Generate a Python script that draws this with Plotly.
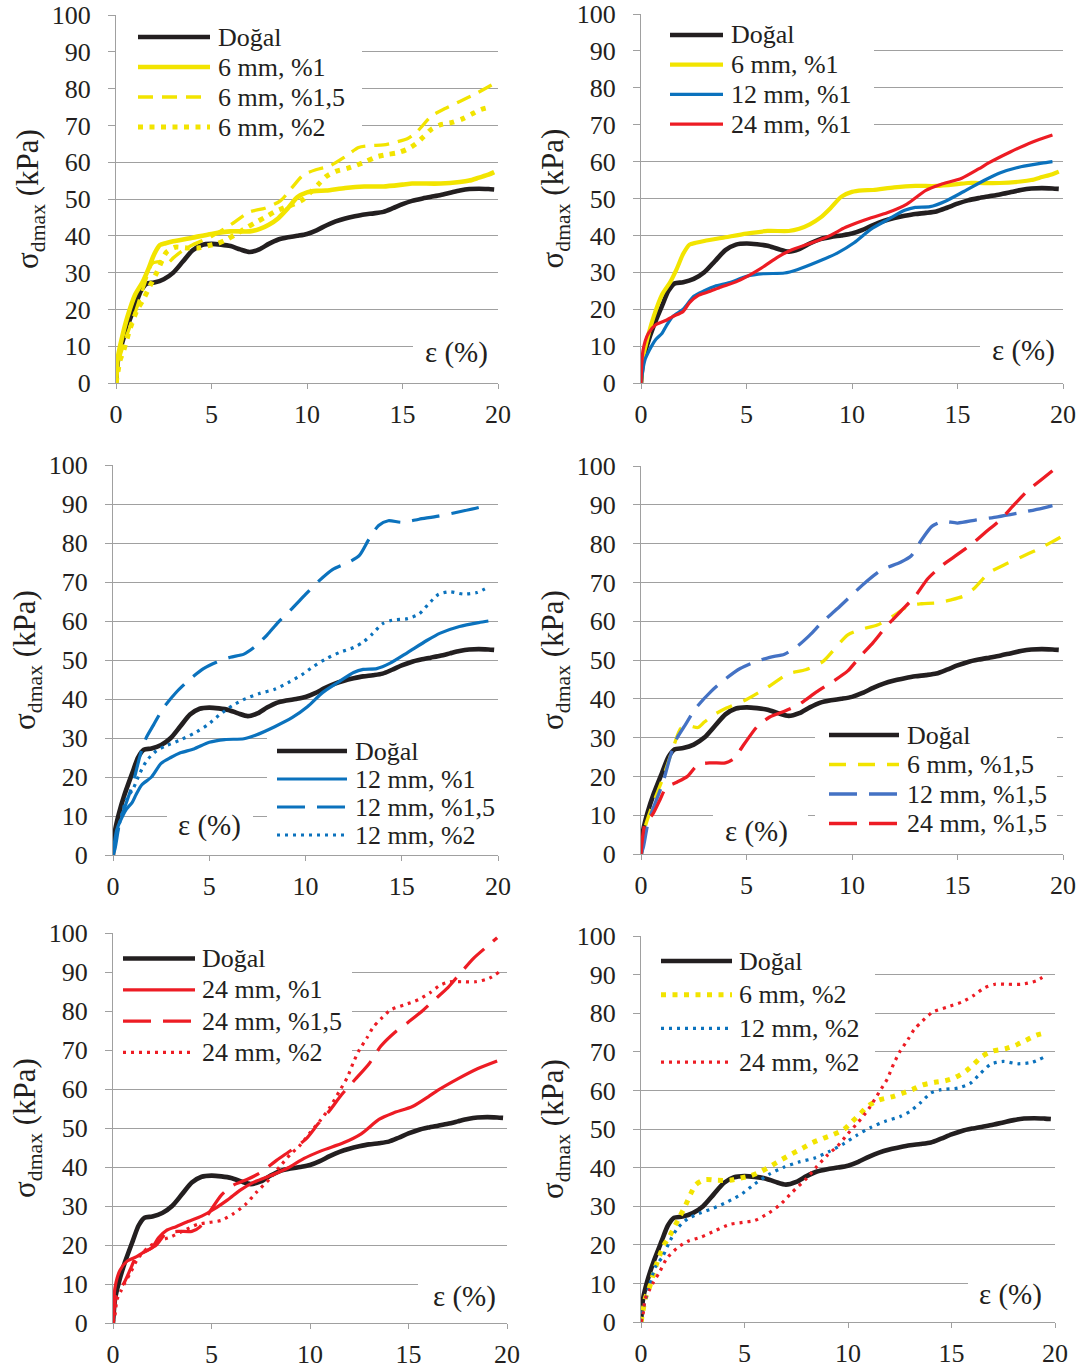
import plotly.graph_objects as go

W, H = 1088, 1370

# ---------------------------------------------------------------
# Strain ε (%) and maximum deviator stress σdmax (kPa) per mix
# ---------------------------------------------------------------
dogal_x = [0, 0.1, 0.3, 0.6, 1.0, 1.3, 1.6, 2.0, 2.5, 3.0, 3.5, 4.0, 4.5, 5.0, 5.5,
           6.0, 6.5, 7.0, 7.5, 8.0, 8.5, 9.0, 9.5, 10.0, 10.5, 11.0, 11.5, 12.0,
           12.5, 13.0, 13.5, 14.0, 14.5, 15.0, 15.5, 16.0, 16.5, 17.0, 17.5, 18.0,
           18.5, 19.0, 19.5, 19.8]
dogal_y = [0, 6, 10.5, 15.5, 21, 25, 27, 27.3, 28.2, 30, 33, 36, 37.5, 37.8, 37.6,
           37.2, 36.3, 35.6, 36.3, 37.8, 39, 39.6, 40, 40.5, 41.5, 42.8, 43.9, 44.7,
           45.3, 45.8, 46.1, 46.5, 47.5, 48.6, 49.5, 50.1, 50.6, 51.1, 51.7, 52.3,
           52.7, 52.8, 52.7, 52.6]

mm6_p1_x = [0, 0.1, 0.3, 0.6, 1.0, 1.4, 1.7, 2.0, 2.3, 2.6, 3.0, 4.0, 5.0, 6.0, 7.0,
            7.5, 8.0, 8.5, 9.0, 9.5, 10.0, 10.5, 11.0, 12.0, 13.0, 14.0, 15.0, 15.5,
            16.0, 17.0, 18.0, 18.5, 19.0, 19.5, 19.8]
mm6_p1_y = [0, 7, 12, 18, 24, 27.5, 31, 35, 37.5, 38, 38.5, 39.5, 40.5, 41.2, 41.2,
            41.8, 43, 44.8, 47.5, 50.5, 51.8, 52.2, 52.3, 53, 53.4, 53.4, 53.9, 54.2,
            54.2, 54.2, 54.6, 55, 55.8, 56.6, 57.3]

mm6_p15_x = [0, 0.2, 0.5, 1.0, 1.5, 1.9, 2.3, 2.7, 3.0, 3.5, 4.0, 5.0, 6.0, 7.0, 7.8,
             8.6, 9.2, 9.8, 10.5, 11.2, 12.0, 12.7, 13.3, 14.0, 14.7, 15.3, 15.8,
             16.5, 17.2, 18.0, 18.8, 19.5, 19.9]
mm6_p15_y = [0, 7, 12, 19, 27, 32.5, 33, 32.6, 34, 36, 37.5, 39.8, 43, 46.5, 47.5,
             49.5, 53, 56.5, 58, 59, 61.5, 64, 64.5, 64.7, 65.5, 66.5, 68.5, 72.5,
             74.5, 76.5, 78.5, 80.5, 81.7]

mm6_p2_x = [0, 0.1, 0.2, 0.4, 0.7, 1.1, 1.4, 1.65, 1.9, 2.15, 2.4, 2.65, 3.1, 3.7,
            4.3, 4.8, 5.3, 5.8, 6.3, 6.8, 7.3, 7.8, 8.3, 8.8, 9.3, 9.8, 10.2, 10.6,
            11.0, 11.5, 12.1, 12.6, 13.1, 13.6, 14.2, 14.7, 15.2, 15.7, 16.1, 16.5,
            17.0, 17.6, 18.1, 18.6, 19.1, 19.6]
mm6_p2_y = [0, 3, 6, 8.8, 14.2, 19.8, 22.4, 25, 27.6, 30.2, 33.2, 35.6, 36.9, 36.7,
            36.7, 37.3, 37.9, 39, 40.5, 42.1, 43.6, 45, 46.5, 47.6, 48.6, 49.9, 51.9,
            54, 56.1, 57.5, 58.3, 59.2, 60.2, 61.4, 62.1, 62.5, 63.4, 65, 66.9, 68.9,
            70.2, 70.8, 71.7, 73, 74.3, 75]

mm12_p1_x = [0, 0.1, 0.2, 0.5, 0.7, 1.0, 1.2, 1.5, 2.0, 2.5, 3.0, 3.5, 4.2, 5.0, 5.8,
             6.8, 7.4, 8.4, 9.3, 10.1, 10.9, 11.7, 12.5, 13.0, 13.7, 14.4, 15.3, 16.3,
             17.0, 18.0, 19.0, 19.5]
mm12_p1_y = [0, 4, 6.5, 10, 11.8, 13.5, 15.5, 18, 20, 23.5, 25, 26.2, 27.2, 28.9,
             29.6, 29.8, 30.7, 32.9, 35.2, 38, 41.7, 44.3, 46.8, 47.6, 47.8, 49.2,
             51.9, 55, 56.9, 58.6, 59.6, 60]

mm12_p15_x = [0, 0.1, 0.35, 0.7, 1.05, 1.4, 1.7, 2.1, 2.6, 3.3, 4.0, 4.7, 5.4, 6.1,
              6.8, 7.4, 8.0, 8.6, 9.3, 10.0, 10.7, 11.4, 12.3, 12.8, 13.3, 13.8, 14.3,
              15.0, 15.9, 16.9, 18.0, 19.0, 19.5]
mm12_p15_y = [0, 1.5, 8.4, 13.5, 18.6, 25.4, 29.8, 33.3, 37.6, 41.8, 45.1, 47.8,
              49.5, 50.7, 51.5, 53.5, 56.4, 59.8, 63.2, 66.8, 70.3, 73.2, 75.2, 76.8,
              81, 84.5, 85.7, 85.3, 86.1, 86.9, 88, 89.1, 89.8]

mm12_p2_x = [0, 0.1, 0.35, 0.7, 1.05, 1.4, 1.75, 2.25, 2.8, 3.5, 4.2, 4.9, 5.5, 6.2,
             6.9, 7.6, 8.4, 9.1, 9.8, 10.4, 11.1, 11.8, 12.5, 13.0, 13.5, 14.0, 14.5,
             15.3, 15.9, 16.4, 16.9, 17.5, 18.2, 18.9, 19.5]
mm12_p2_y = [0, 3.2, 8.4, 14.3, 17, 21, 24.2, 26.7, 28.1, 29.5, 31.2, 33.3, 35.8,
             38.3, 40.1, 41.4, 42.5, 44.2, 46.2, 48.3, 50.4, 52, 53.2, 54.6, 56.8,
             59.3, 60.2, 60.6, 61.8, 64.4, 66.8, 67.5, 66.9, 67.3, 68.7]

mm24_p1_x = [0, 0.1, 0.35, 0.7, 1.2, 1.5, 2.0, 2.3, 2.7, 3.2, 3.8, 4.5, 5.1, 5.8, 6.5,
             7.1, 8.1, 8.9, 9.7, 10.6, 11.7, 12.6, 13.5, 14.2, 15.2, 16.0, 16.5, 17.5,
             18.5, 19.5]
mm24_p1_y = [0, 9, 13.5, 15.8, 17, 18, 19.4, 21.8, 23.7, 24.7, 26, 27.4, 29.1, 31.5,
             34.2, 36, 38, 39.8, 42.2, 44.2, 46.2, 48.5, 52.2, 53.8, 55.5, 58, 59.7,
             62.6, 65.2, 67.2]

mm24_p15_x = [0, 0.2, 0.55, 0.9, 1.2, 1.7, 2.2, 2.7, 3.3, 4.0, 4.4, 4.9, 5.5, 6.1,
              6.8, 7.5, 8.3, 9.1, 9.8, 10.4, 11.0, 11.6, 12.3, 13.0, 13.6, 14.3, 15.0,
              15.7, 16.3, 17.0, 17.6, 18.3, 19.0, 19.5]
mm24_p15_y = [0, 8, 10.2, 14, 17.2, 18.5, 20, 23, 23.5, 23.5, 24.6, 28.4, 32.8, 35.3,
              36.8, 38.6, 41.7, 44.5, 47.2, 51, 54.5, 58.5, 62.5, 66.5, 71, 74.5, 77.2,
              80, 82.8, 86, 89.5, 93.5, 96.6, 98.8]

mm24_p2_x = [0, 0.1, 0.2, 0.4, 0.6, 0.9, 1.25, 1.75, 2.3, 2.9, 3.6, 4.3, 4.9, 5.5,
             6.1, 6.7, 7.3, 8.0, 8.5, 9.0, 9.5, 10.0, 10.5, 11.0, 11.5, 11.9, 12.2,
             12.5, 12.9, 13.2, 13.6, 14.1, 14.8, 15.5, 16.1, 16.6, 17.1, 17.7, 18.4,
             19.1, 19.6]
mm24_p2_y = [0, 2, 6, 8.2, 10.3, 13, 16.5, 19.2, 21, 22, 23.7, 25.3, 25.8, 26.3, 28,
             30.3, 33.6, 37.2, 40.3, 43.2, 45.6, 48.8, 51.8, 55.2, 59.5, 63, 66.8, 70,
             73.2, 75.8, 78, 80.3, 81.6, 82.9, 84.7, 86.6, 87.5, 87.5, 87.5, 88.4, 90]

x_ticks = [0, 5, 10, 15, 20]
y_ticks = [0, 10, 20, 30, 40, 50, 60, 70, 80, 90, 100]

series = {
    "Doğal": (dogal_x, dogal_y),
    "6 mm, %1": (mm6_p1_x, mm6_p1_y),
    "6 mm, %1,5": (mm6_p15_x, mm6_p15_y),
    "6 mm, %2": (mm6_p2_x, mm6_p2_y),
    "12 mm, %1": (mm12_p1_x, mm12_p1_y),
    "12 mm, %1,5": (mm12_p15_x, mm12_p15_y),
    "12 mm, %2": (mm12_p2_x, mm12_p2_y),
    "24 mm, %1": (mm24_p1_x, mm24_p1_y),
    "24 mm, %1,5": (mm24_p15_x, mm24_p15_y),
    "24 mm, %2": (mm24_p2_x, mm24_p2_y),
}

# ---------------------------------------------------------------
# Styling
# ---------------------------------------------------------------
FONT = "Liberation Serif"
TXT = "#231f20"
GRID = "#a0a0a0"
BLACK = "#231f20"
YELLOW = "#f2e400"
BLUE = "#0b72bd"
BLUE2 = "#4472c4"
RED = "#ed1c24"

S_BLACK = dict(color=BLACK, width=4.6, dash="solid")


def sty(color, width, dash):
    return dict(color=color, width=width, dash=dash)


DASH_Y = "15px,9px"
DASH_L = "28px,12px"
DOT_B = "5px,6.5px"
DOT_S = "3px,5px"

# panel box in pixels (left, right, top, bottom), legend & label placement
panels = [
    dict(box=(116, 498, 15, 383),
         items=[("Doğal", S_BLACK), ("6 mm, %1", sty(YELLOW, 4.6, "solid")),
                ("6 mm, %1,5", sty(YELLOW, 3.3, DASH_Y)),
                ("6 mm, %2", sty(YELLOW, 5, DOT_B))],
         leg=dict(bg=(116, 362, 22, 142), sx=(138, 210), tx=216, y0=37, dy=30),
         eps=dict(c=(456, 352), bg=(413, 498, 337, 368))),
    dict(box=(641, 1063, 14, 383),
         items=[("Doğal", S_BLACK), ("6 mm, %1", sty(YELLOW, 4.2, "solid")),
                ("12 mm, %1", sty(BLUE, 3.2, "solid")),
                ("24 mm, %1", sty(RED, 3.2, "solid"))],
         leg=dict(bg=(641, 874, 22, 140), sx=(670, 723), tx=729, y0=35, dy=29.7),
         eps=dict(c=(1023, 351), bg=(980, 1063, 336, 367))),
    dict(box=(113, 498, 465, 855),
         items=[("Doğal", S_BLACK), ("12 mm, %1", sty(BLUE, 3.2, "solid")),
                ("12 mm, %1,5", sty(BLUE, 3.2, DASH_L)),
                ("12 mm, %2", sty(BLUE, 3.2, DOT_S))],
         leg=dict(bg=(267, 498, 733, 848), sx=(277, 347), tx=353, y0=751, dy=28),
         eps=dict(c=(209, 825), bg=(167, 253, 807, 843))),
    dict(box=(641, 1063, 466, 854),
         items=[("Doğal", S_BLACK), ("6 mm, %1,5", sty(YELLOW, 3.3, "17px,12px")),
                ("12 mm, %1,5", sty(BLUE2, 3.3, DASH_L)),
                ("24 mm, %1,5", sty(RED, 3.3, DASH_L))],
         leg=dict(bg=(815, 1057, 722, 848), sx=(829, 899), tx=905, y0=735, dy=29.5),
         eps=dict(c=(756, 831), bg=(713, 808, 812, 848))),
    dict(box=(113, 507, 933, 1323),
         items=[("Doğal", S_BLACK), ("24 mm, %1", sty(RED, 3.2, "solid")),
                ("24 mm, %1,5", sty(RED, 3.2, DASH_L)),
                ("24 mm, %2", sty(RED, 3.2, DOT_S))],
         leg=dict(bg=(113, 352, 942, 1068), sx=(123, 195), tx=200, y0=958.5, dy=31.3),
         eps=dict(c=(464, 1296), bg=(418, 507, 1279, 1312))),
    dict(box=(641, 1055, 936, 1322),
         items=[("Doğal", S_BLACK), ("6 mm, %2", sty(YELLOW, 5, DOT_B)),
                ("12 mm, %2", sty(BLUE, 3.2, DOT_S)),
                ("24 mm, %2", sty(RED, 3.2, DOT_S))],
         leg=dict(bg=(641, 875, 945, 1075), sx=(661, 732), tx=737, y0=961, dy=33.7),
         eps=dict(c=(1010, 1294), bg=(968, 1055, 1277, 1310))),
]

fig = go.Figure()
shapes, annotations = [], []
layout = dict(
    width=W, height=H, margin=dict(l=0, r=0, t=0, b=0, autoexpand=False),
    paper_bgcolor="white", plot_bgcolor="white", showlegend=False,
    font=dict(family=FONT, size=26, color=TXT),
)

for i, p in enumerate(panels, 1):
    X0, X1, Y0, Y1 = p["box"]
    sfx = "" if i == 1 else str(i)
    xr, yr = f"x{sfx}", f"y{sfx}"

    # pixel position -> axis value for this panel
    def dx(px):
        return (px - X0) / (X1 - X0) * 20

    def dy(py):
        return (Y1 - py) / (Y1 - Y0) * 100

    layout[f"xaxis{sfx}"] = dict(
        domain=[X0 / W, X1 / W], range=[0, 20], anchor=yr, automargin=False,
        tickvals=x_ticks, ticktext=[str(v) for v in x_ticks],
        showgrid=False, zeroline=False, showline=True, linecolor=GRID, linewidth=1.3,
        ticks="outside", ticklen=5, tickwidth=1.3, tickcolor=GRID,
        tickfont=dict(family=FONT, size=26, color=TXT), ticklabelstandoff=3,
    )
    layout[f"yaxis{sfx}"] = dict(
        domain=[1 - Y1 / H, 1 - Y0 / H], range=[0, 100], anchor=xr, automargin=False,
        tickvals=y_ticks, ticktext=[str(v) for v in y_ticks],
        showgrid=True, gridcolor=GRID, gridwidth=1.3, zeroline=False,
        showline=True, linecolor=GRID, linewidth=1.3,
        ticks="outside", ticklen=7, tickwidth=1.3, tickcolor=GRID,
        tickfont=dict(family=FONT, size=26, color=TXT), ticklabelstandoff=12,
        title=dict(text="σ<sub>dmax</sub> (kPa)", standoff=3,
                   font=dict(family=FONT, size=31, color=TXT)),
    )

    # curves
    for name, st in p["items"]:
        xs, ys = series[name]
        fig.add_trace(go.Scatter(
            x=xs, y=ys, mode="lines", name=name, xaxis=xr, yaxis=yr,
            line=dict(color=st["color"], width=st["width"], dash=st["dash"],
                      shape="spline", smoothing=0.7),
            hoverinfo="skip", showlegend=False,
        ))

    # legend box (white, over the gridlines, under the curves)
    lg = p["leg"]
    bx0, bx1, by0, by1 = lg["bg"]
    shapes.append(dict(type="rect", xref=xr, yref=yr, layer="between",
                       x0=dx(bx0), x1=dx(bx1), y0=dy(by1), y1=dy(by0),
                       fillcolor="white", line=dict(width=0)))
    for k, (name, st) in enumerate(p["items"]):
        yy = lg["y0"] + k * lg["dy"]
        shapes.append(dict(type="line", xref=xr, yref=yr, layer="above",
                           x0=dx(lg["sx"][0]), x1=dx(lg["sx"][1]), y0=dy(yy), y1=dy(yy),
                           line=dict(color=st["color"], width=st["width"], dash=st["dash"])))
        annotations.append(dict(xref=xr, yref=yr, x=dx(lg["tx"]), y=dy(yy),
                                xanchor="left", yanchor="middle", showarrow=False,
                                text=name, font=dict(family=FONT, size=26, color=TXT)))

    # strain label
    e = p["eps"]
    ex0, ex1, ey0, ey1 = e["bg"]
    shapes.append(dict(type="rect", xref=xr, yref=yr, layer="between",
                       x0=dx(ex0), x1=dx(ex1), y0=dy(ey1), y1=dy(ey0),
                       fillcolor="white", line=dict(width=0)))
    annotations.append(dict(xref=xr, yref=yr, x=dx(e["c"][0]), y=dy(e["c"][1]),
                            xanchor="center", yanchor="middle", showarrow=False,
                            text="ε (%)", font=dict(family=FONT, size=29, color=TXT)))

layout["shapes"] = shapes
layout["annotations"] = annotations
fig.update_layout(**layout)
fig.write_html("out.html")
